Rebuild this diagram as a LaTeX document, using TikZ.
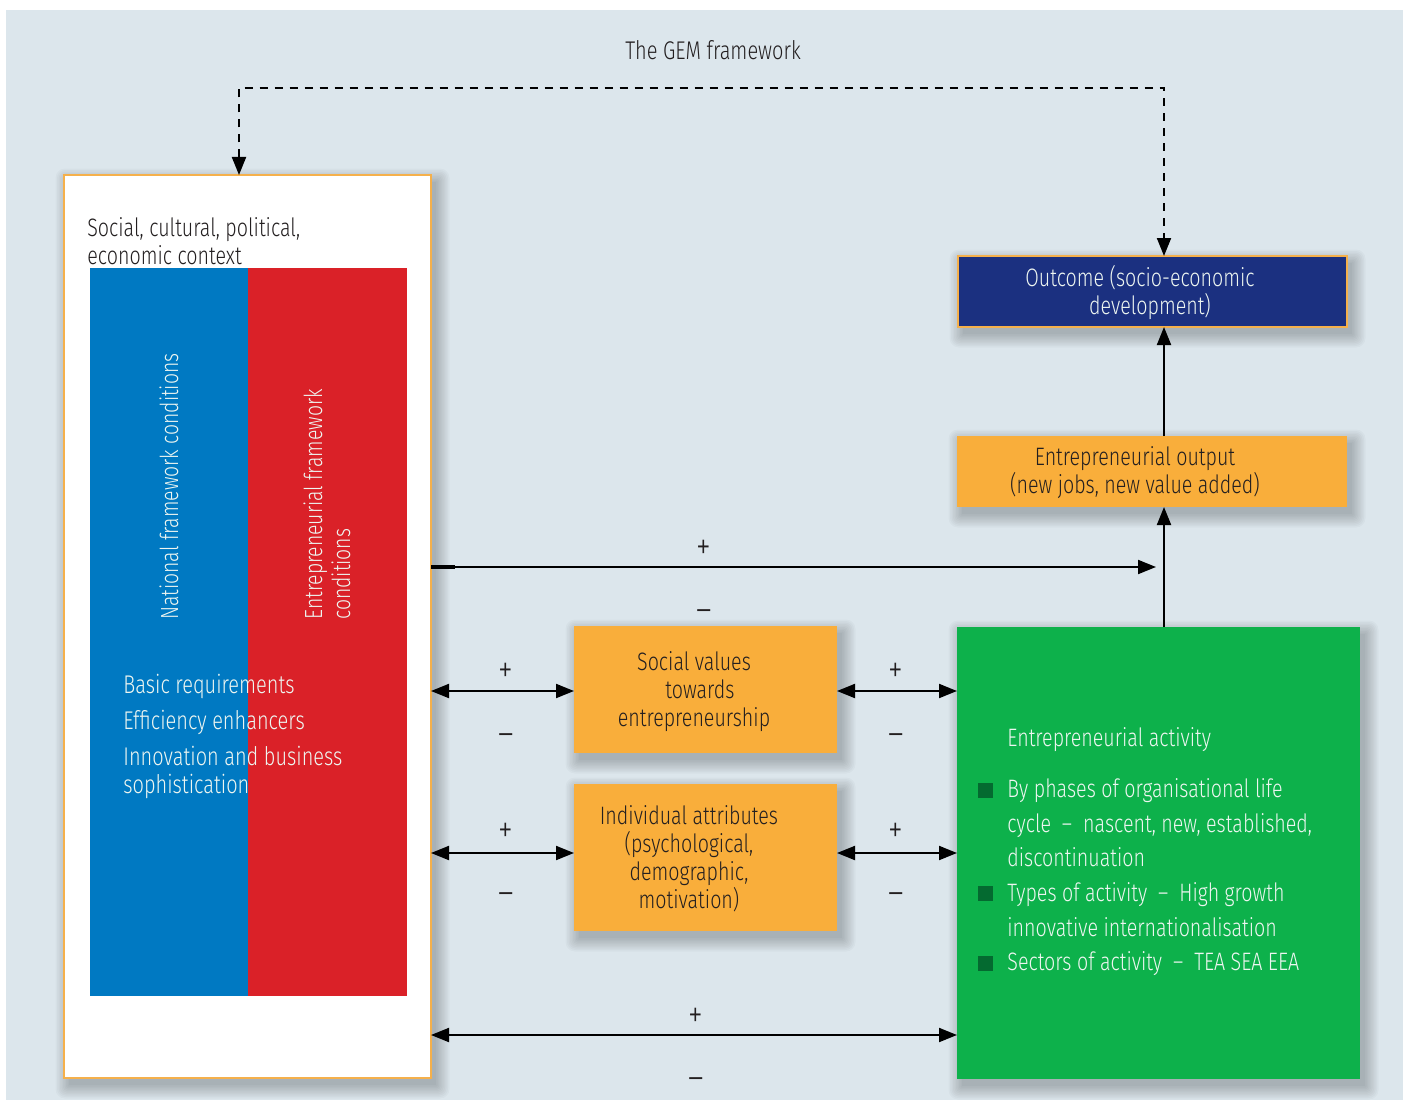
\documentclass[tikz,border=0pt]{standalone}
\usepackage{fontspec}
\setmainfont{Fira Sans}[UprightFont=* Light, FakeStretch=0.78]
\usetikzlibrary{arrows.meta,calc,backgrounds}

\definecolor{bgc}{HTML}{DCE6EC}
\definecolor{ncblue}{HTML}{0079C2}
\definecolor{efred}{HTML}{DA2128}
\definecolor{navy}{HTML}{1B3080}
\definecolor{amber}{HTML}{F9AE3B}
\definecolor{rim}{HTML}{F5B04B}
\definecolor{leaf}{HTML}{0DB14B}
\definecolor{deepleaf}{HTML}{046A30}
\definecolor{ink}{HTML}{231F20}
\definecolor{pale}{HTML}{EEF6F1}

\tikzset{
  box/.style={anchor=north west, inner sep=0pt, outer sep=0pt},
  tip/.style={-{Triangle[length=9pt,width=7pt]}},
  twotip/.style={{Triangle[length=9pt,width=7pt]}-{Triangle[length=9pt,width=7pt]}},
  link/.style={line width=1pt, draw=black},
  sign/.style={font=\fontsize{19}{20}\selectfont, text=ink, inner sep=0pt},
  boxtext/.style={font=\fontsize{12.6}{14}\selectfont, align=center, text=ink},
  line/.style={anchor=base west, inner sep=0pt, font=\fontsize{12.6}{14}\selectfont},
  white text/.style={text=pale},
}

% soft shadow cast down and to the right of a named box
\newcommand{\castshadow}[1]{%
  \foreach \k in {0,1.5,...,13.5} {
    \fill[black, opacity=0.022, rounded corners=\k*0.35pt]
      ($(#1.north west)+(5-\k,7-\k)$) rectangle ($(#1.south east)+(5+\k,7+\k)$);
  }}

\begin{document}
\begin{tikzpicture}[x=0.5pt,y=-0.5pt]
  \useasboundingbox (0,0) rectangle (1408,1102);
  \begin{pgfonlayer}{background}
    \fill[bgc] (6,10) rectangle (1403,1100);
  \end{pgfonlayer}

  \node[font=\fontsize{12.8}{14}\selectfont, text=ink] (title) at (713,50) {The GEM framework};

  % context column with the two framework blocks
  \node[box, fill=white, draw=rim, line width=1pt, minimum width=183.5pt, minimum height=451.5pt] (ctx) at (64,175) {};
  \node[box, fill=ncblue, minimum width=79pt, minimum height=364pt] (nfc) at (90,268) {};
  \node[box, fill=efred, minimum width=79.5pt, minimum height=364pt] (efc) at (248,268) {};
  \node[line, text=ink] (ctxa) at (87,236) {Social, cultural, political,};
  \node[line, text=ink] (ctxb) at (87,264) {economic context};
  \node[rotate=90, anchor=west, inner sep=0pt, white text, font=\fontsize{12.4}{14}\selectfont] (nfclabel) at (169,620) {National framework conditions};
  \node[rotate=90, anchor=west, inner sep=0pt, white text, align=left, font=\fontsize{12.4}{14}\selectfont] (efclabel) at (327,620) {Entrepreneurial framework\\conditions};
  \node[line, white text, font=\fontsize{12.8}{14}\selectfont] (br) at (123,693) {Basic requirements};
  \node[line, white text, font=\fontsize{12.8}{14}\selectfont] (ee) at (123,729) {Efficiency enhancers};
  \node[line, white text, font=\fontsize{12.8}{14}\selectfont] (ibsa) at (123,765) {Innovation and business};
  \node[line, white text, font=\fontsize{12.8}{14}\selectfont] (ibsb) at (123,793) {sophistication};

  % outcome side
  \node[box, fill=navy, draw=rim, line width=1pt, minimum width=194.5pt, minimum height=35.5pt] (outcome) at (958,256) {};
  \node[boxtext, text=pale] (outcometext) at (1140,293) {Outcome (socio-economic\\\hspace*{10pt}development)};
  \node[box, fill=amber, minimum width=195pt, minimum height=35.5pt] (output) at (957,436) {};
  \node[boxtext] (outputtext) at (1135,473) {Entrepreneurial output\\(new jobs, new value added)};

  % intermediate boxes
  \node[box, fill=amber, minimum width=131.5pt, minimum height=63.5pt] (social) at (574,626) {};
  \node[boxtext] (socialtext) at (694,692) {Social values\\\hspace*{6pt}towards\\entrepreneurship};
  \node[box, fill=amber, minimum width=131.5pt, minimum height=73.5pt] (indiv) at (574,784) {};
  \node[boxtext] (indivtext) at (689,859) {Individual attributes\\(psychological,\\demographic,\\motivation)};

  % entrepreneurial activity
  \node[box, fill=leaf, minimum width=201.5pt, minimum height=226pt] (activity) at (957,627) {};
  \node[line, white text] (acttitle) at (1007,746) {Entrepreneurial activity};
  \foreach \txt/\yy/\nm in {By phases of organisational life/797/la,
      {cycle \ -- \ nascent, new, established,}/832/lb,
      discontinuation/866/lc,
      {Types of activity \ -- \ High growth}/901/ld,
      innovative internationalisation/936/le,
      {Sectors of activity \ -- \ TEA SEA EEA}/970/lf}
    \node[line, white text] (\nm) at (1007,\yy) {\txt};
  \foreach \yy/\nm in {790/ba,893/bb,963/bc}
    \node[fill=deepleaf, minimum size=7.5pt, inner sep=0pt] (\nm) at (985.5,\yy) {};

  % shadows under the boxes
  \begin{pgfonlayer}{background}
    \castshadow{ctx}
    \castshadow{outcome}
    \castshadow{output}
    \castshadow{social}
    \castshadow{indiv}
    \castshadow{activity}
  \end{pgfonlayer}

  % feedback loop
  \coordinate (loopl) at (239,88);
  \coordinate (loopr) at (1164,88);
  \draw[link, dashed, dash pattern=on 4pt off 3.5pt, twotip] (ctx.north -| loopl) -- (loopl) -- (loopr) -- (outcome.north -| loopr);

  % vertical chain
  \coordinate (chain) at (1164,0);
  \draw[link, tip] (output.north -| chain) -- (outcome.south -| chain);
  \draw[link, tip] (activity.north -| chain) -- (output.south -| chain);

  % direct effect of context on output
  \coordinate (direct) at (1156,567);
  \draw[link, tip] (ctx.east |- direct) -- (direct);
  \draw[line width=1.6pt] (ctx.east |- direct) -- ++(24,0);
  \node[sign] (dp) at (704,550) {+};
  \node[sign] (dm) at (704,616) {--};

  % exchanges through the intermediate boxes
  \coordinate (rowa) at (0,691);
  \coordinate (rowb) at (0,853);
  \coordinate (rowc) at (0,1035);
  \draw[link, twotip] (ctx.east |- rowa) -- (social.west |- rowa);
  \draw[link, twotip] (social.east |- rowa) -- (activity.west |- rowa);
  \draw[link, twotip] (ctx.east |- rowb) -- (indiv.west |- rowb);
  \draw[link, twotip] (indiv.east |- rowb) -- (activity.west |- rowb);
  \draw[link, twotip] (ctx.east |- rowc) -- (activity.west |- rowc);

  \node[sign] (ap1) at (506,673) {+};
  \node[sign] (am1) at (506,740) {--};
  \node[sign] (ap2) at (896,673) {+};
  \node[sign] (am2) at (896,740) {--};
  \node[sign] (bp1) at (506,833) {+};
  \node[sign] (bm1) at (506,899) {--};
  \node[sign] (bp2) at (896,833) {+};
  \node[sign] (bm2) at (896,899) {--};
  \node[sign] (cp) at (696,1018) {+};
  \node[sign] (cm) at (696,1084) {--};
\end{tikzpicture}
\end{document}
